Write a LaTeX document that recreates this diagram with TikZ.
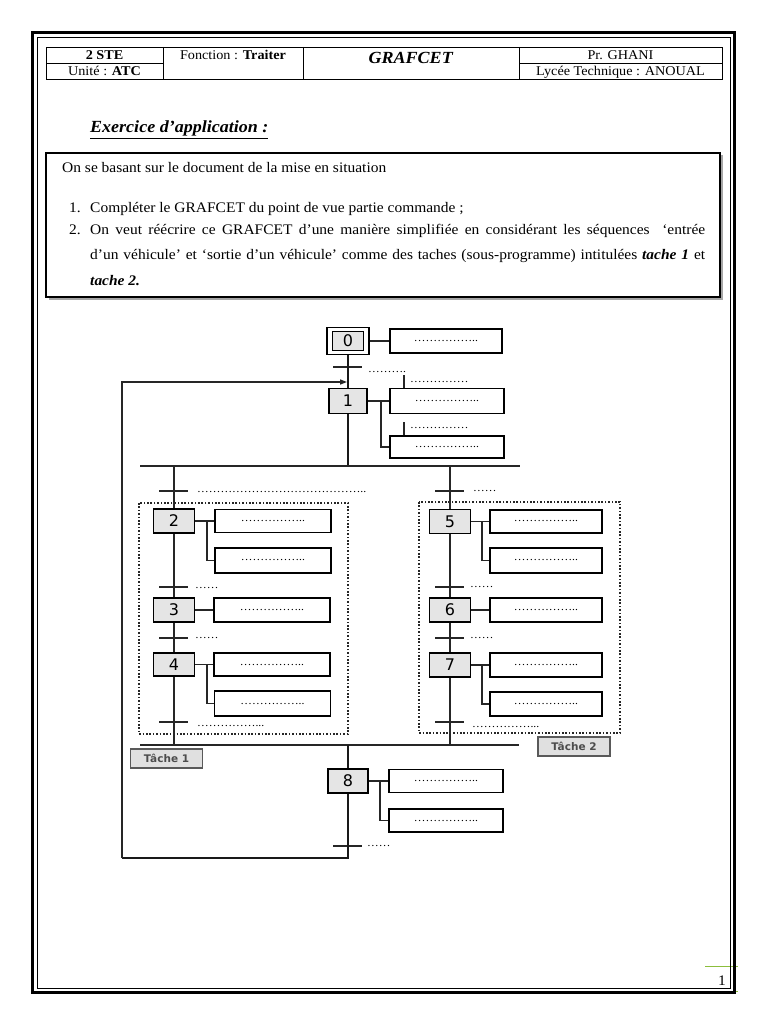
\documentclass[tikz,border=0pt]{standalone}
\usepackage{fontspec}
\setmainfont{Liberation Serif}[FakeStretch=1.06]
\newfontfamily\stepfont{DejaVu Sans}
\usetikzlibrary{arrows.meta}
\definecolor{pgreen}{RGB}{140,190,60}
\newcommand\hdsize{\fontsize{13.4}{15}\selectfont}
\newcommand\bdsize{\fontsize{14.6}{17}\selectfont}
\newcommand\ttsize{\fontsize{17}{20}\selectfont}
\newcommand\dtsize{\fontsize{11}{11}\selectfont}
\newcommand\actdots{……………..}
\begin{document}
\begin{tikzpicture}[x=1pt,y=-1pt,
 hd/.style={inner sep=0pt,font=\hdsize,anchor=base},
 bd/.style={inner sep=0pt,font=\bdsize,anchor=base west},
 stepbox/.style={draw,line width=1.9pt,fill=black!10,minimum width=41pt,minimum height=24pt,inner sep=0pt,font=\stepfont\fontsize{16}{16}\selectfont},
 actbox/.style={draw,line width=1.5pt,fill=white,minimum width=114pt,minimum height=24pt,inner sep=0pt,font=\dtsize},
 dl/.style={inner sep=0pt,font=\dtsize,anchor=west},
 ln/.style={line width=1.3pt,black!85},
 vln/.style={line width=2pt,black!90},
 trbar/.style={line width=1.6pt,black!85},
 dotbox/.style={line width=1.7pt,black!85,dash pattern=on 1.6pt off 1.8pt},
 tache/.style={draw=black!65,line width=1.6pt,fill=black!12,minimum width=72pt,minimum height=19pt,inner sep=0pt,font=\stepfont\bfseries\fontsize{10.5}{10.5}\selectfont,text=black!70}
]
\useasboundingbox (0,0) rectangle (768,1024);
\fill[white] (0,0) rectangle (768,1024);

% page frame
\draw[pgreen,line width=0.9pt] (705,966) -- (738,966);
\draw[pgreen,line width=0.9pt] (706,991) -- (738,991);
\draw[line width=3.5pt] (32.5,32.5) rectangle (734.5,992.5);
\draw[line width=0.9pt] (37.5,37.5) rectangle (730.5,988.5);
\node[inner sep=0pt,font=\bdsize,anchor=base] (pg) at (722,985) {1};

% header table
\draw[line width=0.9pt] (46,47) rectangle (722,79);
\draw[line width=0.9pt] (163,47) -- (163,79) (303,47) -- (303,79) (519,47) -- (519,79)
  (46,63) -- (163,63) (519,63) -- (722,63);
\node[hd] (h1) at (104.5,59.5) {\textbf{2 STE}};
\node[hd] (h2) at (104.5,75.5) {Unité : \textbf{ATC}};
\node[hd] (h3) at (233,59.5) {Fonction : \textbf{Traiter}};
\node[inner sep=0pt,font=\ttsize,anchor=base] (h4) at (411,64) {\textbf{\textit{GRAFCET}}};
\node[hd] (h5) at (620.5,59.5) {Pr. GHANI};
\node[hd] (h6) at (620.5,75.5) {Lycée Technique : ANOUAL};

% exercise title
\node[inner sep=0pt,font=\ttsize,anchor=base west] (ex) at (90,133) {\underline{\textbf{\textit{Exercice d’application :}}}};

% statement box
\fill[black!35] (48.5,155.5) rectangle (722.5,299.5);
\draw[line width=1.8pt,fill=white] (46,153) rectangle (720,297);
\node[bd] (l0) at (62,172.5) {On se basant sur le document de la mise en situation};
\node[bd] (n1) at (69,212.5) {1.};
\node[bd] (l1) at (90,212.5) {Compléter le GRAFCET du point de vue partie commande ;};
\node[bd] (n2) at (69,234.5) {2.};
\node[bd] (l2) at (90,234.5) {\hbox to 615pt{On veut réécrire ce GRAFCET d’une manière simplifiée en considérant les séquences \ ‘entrée}};
\node[bd] (l3) at (90,259.5) {\hbox to 615pt{d’un véhicule’ et ‘sortie d’un véhicule’ comme des taches (sous-programme) intitulées \textbf{\textit{tache 1}} et}};
\node[bd] (l4) at (90,285.5) {\textbf{\textit{tache 2.}}};

% ---------- GRAFCET ----------
% step 0 (initial)
\node[draw,line width=1.9pt,fill=white,minimum width=42pt,minimum height=27pt,inner sep=0pt] (s0) at (348,341) {};
\node[stepbox,minimum width=31pt,minimum height=19pt,line width=1.2pt] (s0i) at (348,341) {0};
\node[actbox,minimum width=112pt] (a0) at (446,341) {\actdots};
\draw[ln] (s0.east) -- (a0.west);
\draw[trbar] (333,367) -- (362,367);
\node[dl] (t0) at (368,372) {……….};

% step 1
\node[stepbox,minimum width=38pt,minimum height=25pt] (s1) at (348,401) {1};
\node[actbox,minimum height=25pt] (a1a) at (447,401) {\actdots};
\node[actbox,minimum height=22pt] (a1b) at (447,447) {\actdots};
\draw[vln] (s0.south) -- (s1.north);
\draw[ln] (s1.east) -- (a1a.west);
\coordinate (b1) at (381,401);
\draw[ln] (b1) |- (a1b.west);
\coordinate (k1) at (404,375);
\draw[ln] (a1a.north -| k1) -- (k1);
\node[dl] (c1) at (410,382) {……………};
\coordinate (k2) at (404,422);
\draw[ln] (a1b.north -| k2) -- (k2);
\node[dl] (c2) at (410,428) {……………};

% divergence
\coordinate (dv) at (348,466);
\draw[vln] (s1.south) -- (dv);
\coordinate (dvl) at (140,466);
\coordinate (dvr) at (520,466);
\draw[ln] (dvl) -- (dvr);

% left branch (tache 1)
\draw[dotbox] (139,503) rectangle (348,734);
\coordinate (dL) at (174,466);
\node[stepbox] (s2) at (174,521) {2};
\node[actbox,minimum width=116pt,minimum height=23pt] (a2a) at (273,521) {\actdots};
\node[actbox,minimum width=116pt,minimum height=25pt] (a2b) at (273,560.5) {\actdots};
\draw[ln] (dL) -- (s2.north);
\draw[trbar] (159,491) -- (188,491);
\node[dl] (tl0) at (197,492) {……………………………………..};
\draw[ln] (s2.east) -- (a2a.west);
\coordinate (b2) at (207,521);
\draw[ln] (b2) |- (a2b.west);

\node[stepbox] (s3) at (174,610) {3};
\node[actbox,minimum width=116pt] (a3) at (272,610) {\actdots};
\draw[ln] (s2.south) -- (s3.north);
\draw[trbar] (159,587) -- (188,587);
\node[dl] (t23) at (195,588) {……};
\draw[ln] (s3.east) -- (a3.west);

\node[stepbox,minimum height=23pt] (s4) at (174,664.5) {4};
\node[actbox,minimum width=116pt,minimum height=23pt] (a4a) at (272,664.5) {\actdots};
\node[actbox,minimum width=116pt,minimum height=25pt] (a4b) at (272.5,703.5) {\actdots};
\draw[ln] (s3.south) -- (s4.north);
\draw[trbar] (159,638) -- (188,638);
\node[dl] (t34) at (195,638) {……};
\draw[ln] (s4.east) -- (a4a.west);
\coordinate (b4) at (207,664.5);
\draw[ln] (b4) |- (a4b.west);
\coordinate (cL) at (174,745);
\draw[ln] (s4.south) -- (cL);
\draw[trbar] (159,722) -- (188,722);
\node[dl] (t4) at (197,726) {……………...};

% right branch (tache 2)
\draw[dotbox] (419,502) rectangle (620,733);
\coordinate (dR) at (450,466);
\node[stepbox] (s5) at (450,521.5) {5};
\node[actbox,minimum width=112pt,minimum height=23pt] (a5a) at (546,521.5) {\actdots};
\node[actbox,minimum width=112pt,minimum height=25pt] (a5b) at (546,560.5) {\actdots};
\draw[ln] (dR) -- (s5.north);
\draw[trbar] (435,491) -- (464,491);
\node[dl] (t5) at (473,491) {……};
\draw[ln] (s5.east) -- (a5a.west);
\coordinate (b5) at (482,521.5);
\draw[ln] (b5) |- (a5b.west);

\node[stepbox] (s6) at (450,610) {6};
\node[actbox,minimum width=112pt] (a6) at (546,610) {\actdots};
\draw[ln] (s5.south) -- (s6.north);
\draw[trbar] (435,587) -- (464,587);
\node[dl] (t56) at (470,587) {……};
\draw[ln] (s6.east) -- (a6.west);

\node[stepbox] (s7) at (450,665) {7};
\node[actbox,minimum width=112pt] (a7a) at (546,665) {\actdots};
\node[actbox,minimum width=112pt] (a7b) at (546,704) {\actdots};
\draw[ln] (s6.south) -- (s7.north);
\draw[trbar] (435,638) -- (464,638);
\node[dl] (t67) at (470,638) {……};
\draw[ln] (s7.east) -- (a7a.west);
\coordinate (b7) at (482,665);
\draw[ln] (b7) |- (a7b.west);
\coordinate (cR) at (450,745);
\draw[ln] (s7.south) -- (cR);
\draw[trbar] (435,722) -- (464,722);
\node[dl] (t7) at (472,727) {……………...};

% convergence
\coordinate (cvl) at (140,745);
\coordinate (cvr) at (519,745);
\draw[ln] (cvl) -- (cvr);
\node[tache] (T1) at (166.5,758.5) {Tâche 1};
\node[tache] (T2) at (574,746.5) {Tâche 2};

% step 8
\coordinate (cv) at (348,745);
\node[stepbox,minimum width=40pt] (s8) at (348,781) {8};
\node[actbox,minimum height=23pt] (a8a) at (446,781) {\actdots};
\node[actbox,minimum height=23pt] (a8b) at (446,820.5) {\actdots};
\draw[vln] (cv) -- (s8.north);
\draw[ln] (s8.east) -- (a8a.west);
\coordinate (b8) at (380,781);
\draw[ln] (b8) |- (a8b.west);
\draw[trbar] (333,846) -- (362,846);
\node[dl] (t8) at (367,846) {……};

% loop back to step 1
\coordinate (lpb) at (122,858);
\coordinate (lpin) at (347,382);
\draw[vln] (s8.south) |- (lpb);
\draw[ln,-{Triangle[length=7pt,width=5pt]}] (lpb) |- (lpin);
\end{tikzpicture}
\end{document}
